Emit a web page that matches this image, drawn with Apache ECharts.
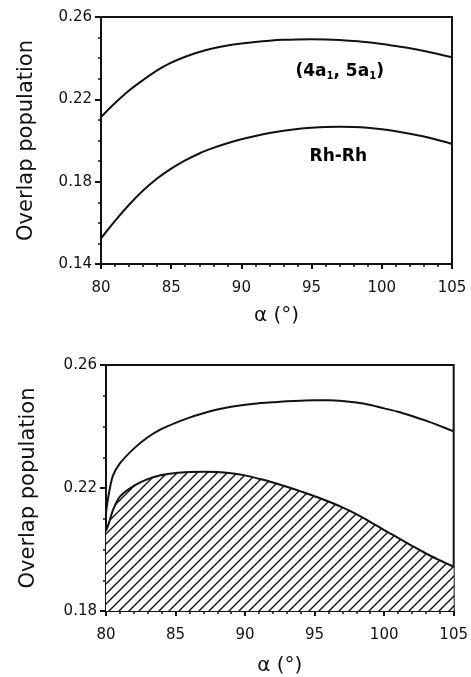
<!DOCTYPE html>
<html><head><meta charset="utf-8">
<script src="https://cdn.jsdelivr.net/npm/echarts@6/dist/echarts.min.js"></script>
<style>html,body{margin:0;padding:0;background:#fff}#c{width:471px;height:677px}</style>
</head><body><div id="c"></div>
<script>
// ---- Top panel data ----
const alphaTop = [80, 81, 82, 83, 84, 85, 86, 87, 88, 89, 90, 91, 92, 93, 94, 95, 96, 97, 98, 99, 100, 101, 102, 103, 104, 105];
const overlapA1Top = [0.2114, 0.2182, 0.2243, 0.2294, 0.2341, 0.2378, 0.2407, 0.2430, 0.2448, 0.2461, 0.2471, 0.2479, 0.2485, 0.2489, 0.2491, 0.2492, 0.2491, 0.2488, 0.2483, 0.2477, 0.2469, 0.2459, 0.2448, 0.2435, 0.2420, 0.2404];
const overlapRhRh = [0.1525, 0.1610, 0.1688, 0.1757, 0.1815, 0.1863, 0.1903, 0.1937, 0.1964, 0.1987, 0.2006, 0.2022, 0.2036, 0.2047, 0.2056, 0.2062, 0.2066, 0.2067, 0.2066, 0.2062, 0.2055, 0.2045, 0.2033, 0.2019, 0.2002, 0.1983];
// ---- Bottom panel data ----
const alphaBot = [80, 80.2, 80.5, 81, 82, 83, 84, 85, 86, 87, 88, 89, 90, 91, 92, 93, 94, 95, 96, 97, 98, 99, 100, 101, 102, 103, 104, 105];
const overlapBotUpper = [0.2120, 0.2180, 0.2240, 0.2280, 0.2328, 0.2365, 0.2392, 0.2412, 0.2429, 0.2443, 0.2455, 0.2464, 0.2471, 0.2476, 0.2479, 0.2482, 0.2484, 0.2485, 0.2485, 0.2483, 0.2478, 0.2470, 0.2459, 0.2448, 0.2434, 0.2419, 0.2402, 0.2384];
const overlapBotLower = [0.2060, 0.2085, 0.2128, 0.2172, 0.2207, 0.2229, 0.2242, 0.2249, 0.2252, 0.2253, 0.2252, 0.2248, 0.2241, 0.2230, 0.2218, 0.2204, 0.2189, 0.2173, 0.2156, 0.2137, 0.2115, 0.2090, 0.2063, 0.2038, 0.2012, 0.1987, 0.1965, 0.1944];
// ---- Annotations ----
const labelTexts = ['(4a{s|1}, 5a{s|1})', 'Rh-Rh'];
const labelAlpha = [97.0, 96.9];
const labelOverlap = [0.2333, 0.1920];
// ---- Axis ticks ----
const xTicks = [80, 85, 90, 95, 100, 105];
const yTicksTop = [0.14, 0.18, 0.22, 0.26];
const yTicksBot = [0.18, 0.22, 0.26];

const zip = (xs, ys) => xs.map((x, i) => [x, ys[i]]);

function hatch(s) {
  const c = document.createElement('canvas');
  c.width = c.height = s;
  const g = c.getContext('2d');
  g.fillStyle = '#fff'; g.fillRect(0, 0, s, s);
  g.strokeStyle = '#111'; g.lineWidth = 1.4;
  g.beginPath();
  g.moveTo(0, s); g.lineTo(s, 0);
  g.moveTo(-s / 2, s / 2); g.lineTo(s / 2, -s / 2);
  g.moveTo(s / 2, s * 1.5); g.lineTo(s * 1.5, s / 2);
  g.stroke();
  return c;
}

const FONT = 'DejaVu Sans';
const black = '#111';

function xAxisCfg(gridIndex, gap) {
  return {
    type: 'value', gridIndex, min: xTicks[0], max: xTicks[xTicks.length - 1], interval: 5,
    name: 'α (°)', nameLocation: 'middle', nameGap: gap,
    nameTextStyle: { fontFamily: FONT, fontSize: 20, color: black },
    axisLine: { show: true, lineStyle: { color: black, width: 2 } },
    axisTick: { show: true, inside: false, length: 5, lineStyle: { color: black, width: 2 } },
    minorTick: { show: true, splitNumber: 5, length: 3, lineStyle: { color: black, width: 1.5 } },
    splitLine: { show: false },
    axisLabel: { fontFamily: FONT, fontSize: 15, color: black, margin: 17 }
  };
}
function yAxisCfg(gridIndex, ticks, gap) {
  return {
    type: 'value', gridIndex, min: ticks[0], max: ticks[ticks.length - 1], interval: 0.04,
    name: 'Overlap population', nameLocation: 'middle', nameGap: gap,
    nameTextStyle: { fontFamily: FONT, fontSize: 21, color: black },
    axisLine: { show: true, lineStyle: { color: black, width: 2 } },
    axisTick: { show: true, inside: false, length: 6, lineStyle: { color: black, width: 2 } },
    minorTick: { show: true, splitNumber: 4, length: 3, lineStyle: { color: black, width: 1.5 } },
    splitLine: { show: false },
    axisLabel: { fontFamily: FONT, fontSize: 15, color: black, margin: 9, formatter: v => v.toFixed(2) }
  };
}
const lineStyle = { color: black, width: 2 };

const chart = echarts.init(document.getElementById('c'), null, { renderer: 'canvas' });
chart.setOption({
  animation: false,
  backgroundColor: '#fff',
  grid: [
    { left: 101, top: 17, width: 351, height: 247, show: true, borderColor: black, borderWidth: 2, backgroundColor: 'transparent' },
    { left: 106, top: 365, width: 349, height: 248, show: true, borderColor: black, borderWidth: 2, backgroundColor: 'transparent' }
  ],
  xAxis: [xAxisCfg(0, 42), xAxisCfg(1, 45)],
  yAxis: [yAxisCfg(0, yTicksTop, 64), yAxisCfg(1, yTicksBot, 67)],
  series: [
    { type: 'line', xAxisIndex: 0, yAxisIndex: 0, data: zip(alphaTop, overlapA1Top), showSymbol: false, smooth: 0.3, lineStyle },
    { type: 'line', xAxisIndex: 0, yAxisIndex: 0, data: zip(alphaTop, overlapRhRh), showSymbol: false, smooth: 0.3, lineStyle },
    { type: 'line', xAxisIndex: 1, yAxisIndex: 1, data: zip(alphaBot, overlapBotLower), showSymbol: false, smooth: 0.3, lineStyle,
      areaStyle: { origin: 'start', color: { image: hatch(10), repeat: 'repeat' }, opacity: 1 } },
    { type: 'line', xAxisIndex: 1, yAxisIndex: 1, data: zip(alphaBot, overlapBotUpper), showSymbol: false, smooth: 0.3, lineStyle },
    { type: 'scatter', xAxisIndex: 0, yAxisIndex: 0, symbolSize: 0, silent: true,
      itemStyle: { opacity: 1 },
      data: labelAlpha.map((a, i) => ({ value: [a, labelOverlap[i]], text: labelTexts[i] })),
      label: { show: true, position: 'inside', formatter: p => p.data.text,
        fontFamily: FONT, fontSize: 17, fontWeight: 'bold', color: '#000', opacity: 1,
        rich: { s: { fontFamily: FONT, fontSize: 10, fontWeight: 'bold', color: '#000', padding: [9, 0, 0, 0] } } } }
  ]
});
</script></body></html>
